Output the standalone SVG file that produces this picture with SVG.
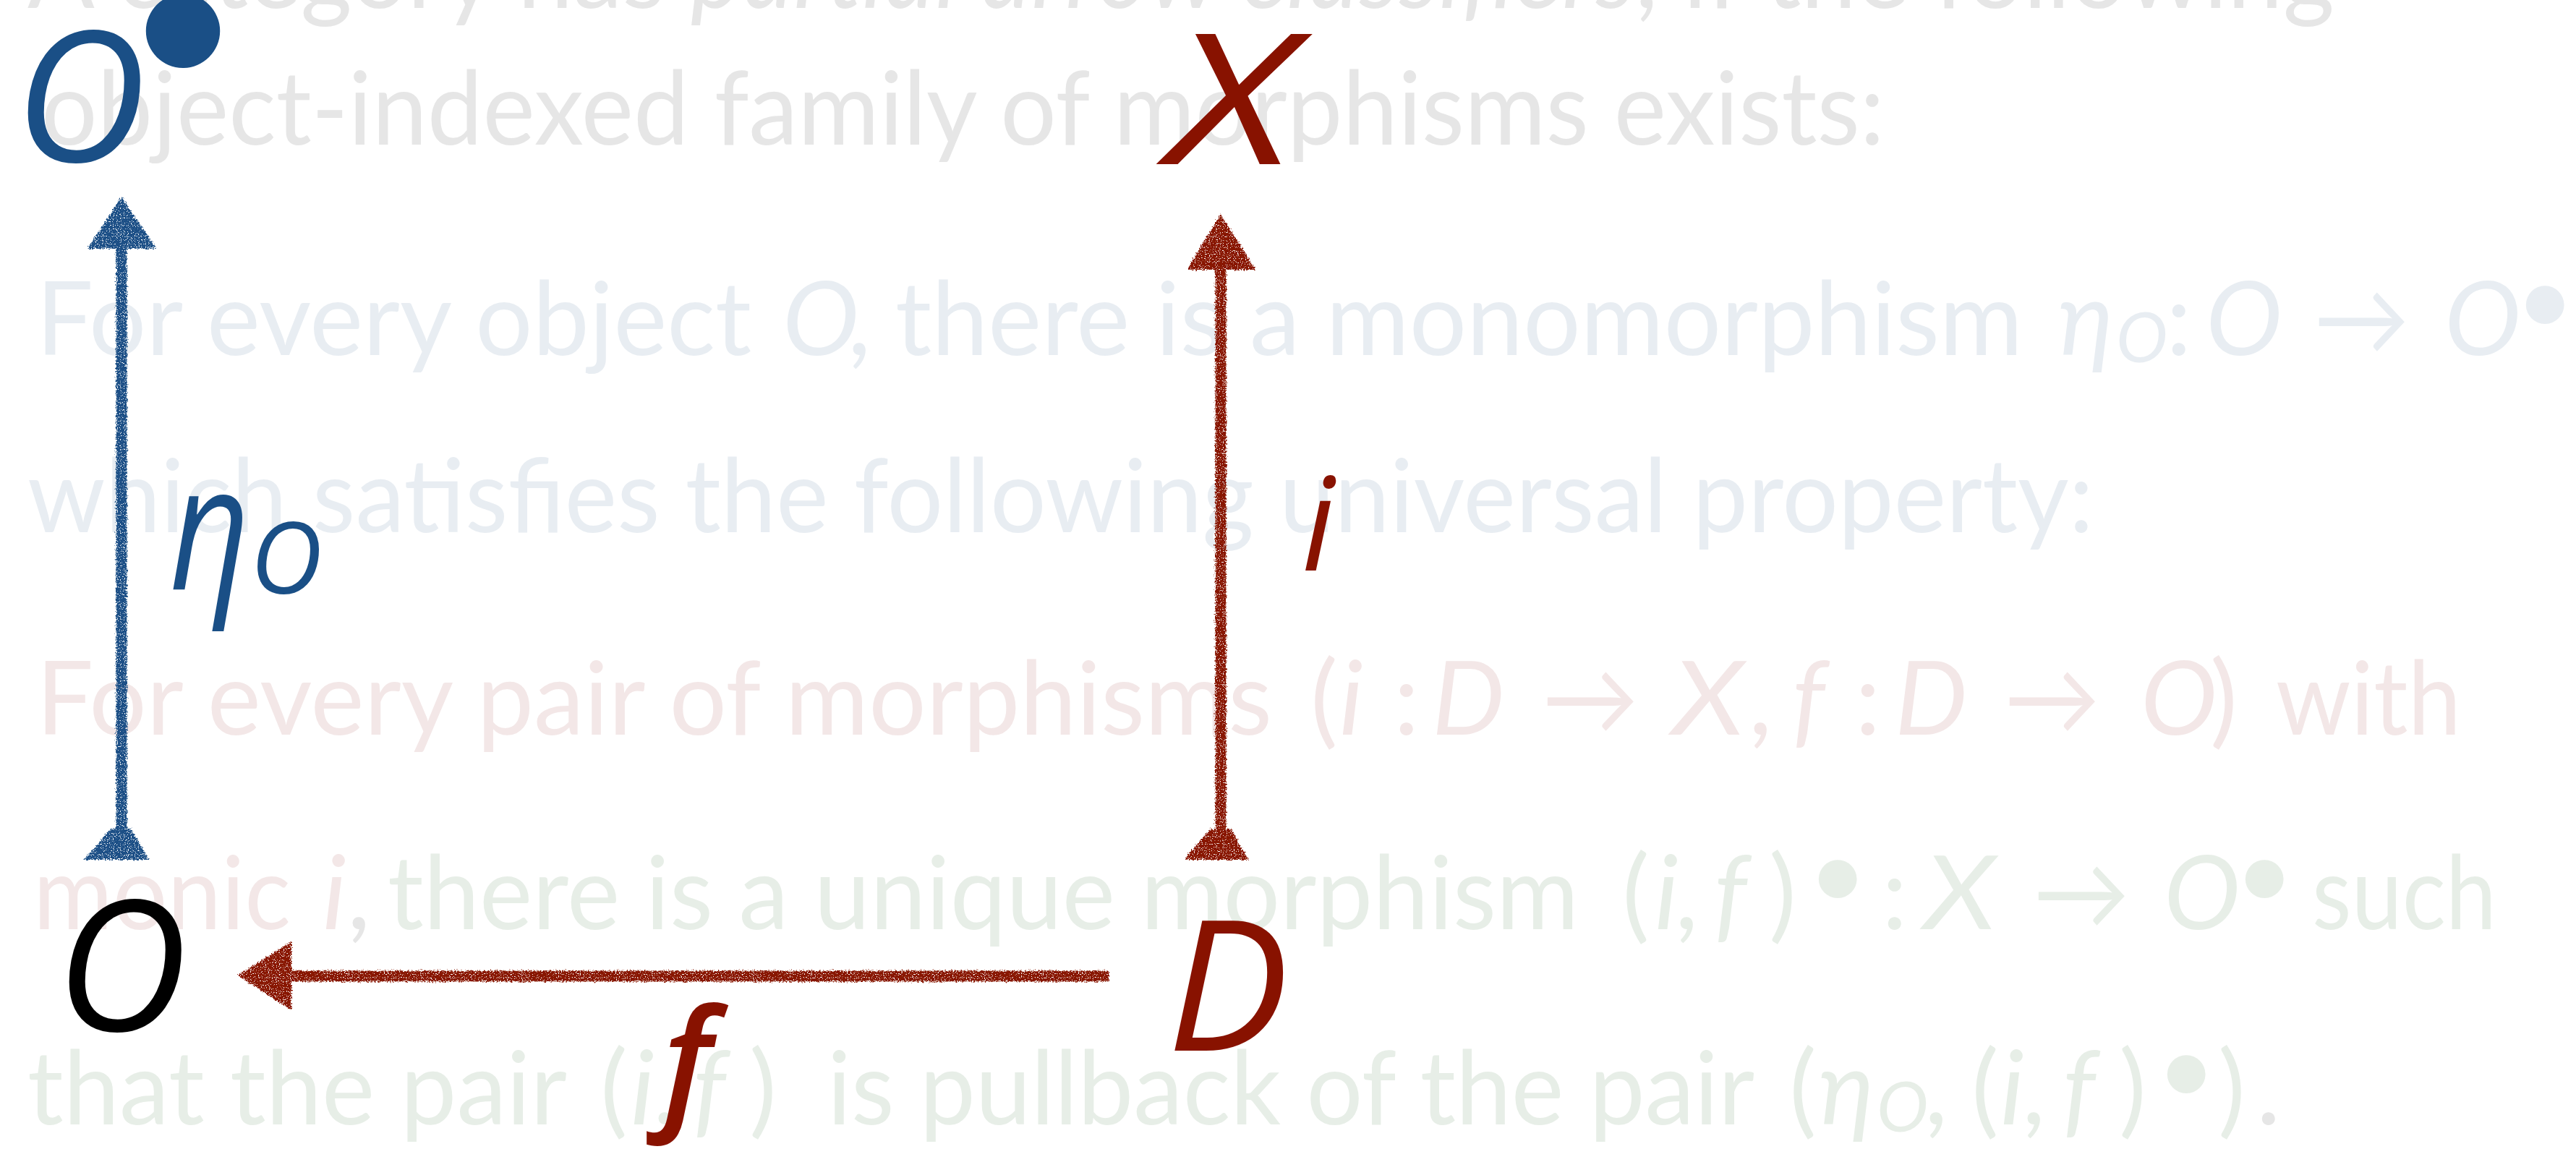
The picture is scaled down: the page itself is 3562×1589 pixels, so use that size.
<svg xmlns="http://www.w3.org/2000/svg" width="3562" height="1589" viewBox="0 0 3562 1589">
<defs>
<style>
.bg{font-family:Lato,'Noto Sans','DejaVu Sans',sans-serif;font-size:142px}
.it{font-style:italic}
.sub{font-size:96px}
.g{fill:#e6e6e6}.b{fill:#e8edf2}.p{fill:#f3e7e7}.n{fill:#e7eee7}
.lbl{font-family:'Open Sans','Noto Sans',sans-serif;font-style:italic}
.big{font-size:252px}
.blue{fill:#1a4f86}.red{fill:#881200}.blk{fill:#000}
.sb{stroke:#1a4f86;fill:none;stroke-width:15;stroke-linecap:butt}
.sr{stroke:#881200;fill:none;stroke-width:15;stroke-linecap:butt}
.hb{fill:#1a4f86}.hr{fill:#881200}
</style>
<filter id="rough" filterUnits="userSpaceOnUse" x="0" y="0" width="3562" height="1589">
<feTurbulence type="fractalNoise" baseFrequency="0.45" numOctaves="2" seed="3" result="t"/>
<feDisplacementMap in="SourceGraphic" in2="t" scale="7" xChannelSelector="R" yChannelSelector="G" result="d"/>
<feTurbulence type="fractalNoise" baseFrequency="0.8" numOctaves="1" seed="7" result="t2"/>
<feColorMatrix in="t2" type="matrix" values="0 0 0 0 0 0 0 0 0 0 0 0 0 0 0 0 0 0 -12 8.2" result="holes"/>
<feComposite in="d" in2="holes" operator="in"/>
</filter>
</defs>
<rect width="3562" height="1589" fill="#ffffff"/>

<g id="background-text" class="bg">
<text class="g" x="38" y="11" textLength="3190" lengthAdjust="spacingAndGlyphs">A category has <tspan class="it">partial arrow classifiers</tspan>, if the following</text>
<text class="g" x="57" y="200" textLength="2549" lengthAdjust="spacingAndGlyphs">object-indexed family of morphisms exists:</text>

<g class="b">
<text x="50" y="491" textLength="989" lengthAdjust="spacingAndGlyphs">For every object</text>
<text class="it" x="1082" y="491">O</text>
<text x="1172" y="491">,</text>
<text x="1238" y="491" textLength="1559" lengthAdjust="spacingAndGlyphs">there is a monomorphism</text>
<text class="it" x="2846" y="491">η</text>
<text class="it sub" x="2926" y="501">O</text>
<text x="2995" y="491">:</text>
<text class="it" x="3050" y="491">O</text>
<text x="3199" y="491" textLength="133" lengthAdjust="spacingAndGlyphs">→</text>
<text class="it" x="3380" y="491">O</text>
<text x="3478" y="464">•</text>
<text x="38" y="736" textLength="2857" lengthAdjust="spacingAndGlyphs">which satisfies the following universal property:</text>
</g>

<g class="p">
<text x="50" y="1016" textLength="1709" lengthAdjust="spacingAndGlyphs">For every pair of morphisms</text>
<text x="1812" y="1016">(</text>
<text class="it" x="1852" y="1016">i</text>
<text x="1927" y="1016">:</text>
<text class="it" x="1980" y="1016">D</text>
<text x="2132" y="1016" textLength="134" lengthAdjust="spacingAndGlyphs">→</text>
<text class="it" x="2312" y="1016" textLength="100" lengthAdjust="spacingAndGlyphs">X</text>
<text x="2418" y="1016">,</text>
<text class="it" x="2478" y="1016">f</text>
<text x="2565" y="1016">:</text>
<text class="it" x="2620" y="1016">D</text>
<text x="2771" y="1016" textLength="133" lengthAdjust="spacingAndGlyphs">→</text>
<text class="it" x="2960" y="1016">O</text>
<text x="3056" y="1016">)</text>
<text x="3147" y="1016" textLength="256" lengthAdjust="spacingAndGlyphs">with</text>
<text x="46" y="1285" textLength="356" lengthAdjust="spacingAndGlyphs">monic</text>
<text class="it" x="446" y="1285">i</text>
</g>
<text class="g" x="480" y="1285">,</text>

<g class="n">
<text x="536" y="1285" textLength="1647" lengthAdjust="spacingAndGlyphs">there is a unique morphism</text>
<text x="2243" y="1285">(</text>
<text class="it" x="2288" y="1285">i</text>
<text x="2316" y="1285">,</text>
<text class="it" x="2370" y="1285">f</text>
<text x="2446" y="1285">)</text>
<text x="2500" y="1258">•</text>
<text x="2602" y="1285">:</text>
<text class="it" x="2660" y="1285" textLength="100" lengthAdjust="spacingAndGlyphs">X</text>
<text x="2811" y="1285" textLength="134" lengthAdjust="spacingAndGlyphs">→</text>
<text class="it" x="2992" y="1285">O</text>
<text x="3090" y="1258">•</text>
<text x="3197" y="1285" textLength="255" lengthAdjust="spacingAndGlyphs">such</text>

<text x="38" y="1555" textLength="746" lengthAdjust="spacingAndGlyphs">that the pair</text>
<text x="830" y="1555">(</text>
<text class="it" x="872" y="1555">i</text>
<text x="903" y="1555">,</text>
<text class="it" x="958" y="1555">f</text>
<text x="1036" y="1555">)</text>
<text x="1144" y="1555" textLength="1282" lengthAdjust="spacingAndGlyphs">is pullback of the pair</text>
<text x="2474" y="1555">(</text>
<text class="it" x="2515" y="1555">η</text>
<text class="it sub" x="2595" y="1565">O</text>
<text x="2661" y="1555">,</text>
<text x="2726" y="1555">(</text>
<text class="it" x="2766" y="1555">i</text>
<text x="2796" y="1555">,</text>
<text class="it" x="2852" y="1555">f</text>
<text x="2930" y="1555">)</text>
<text x="2982" y="1528">•</text>
<text x="3067" y="1555">)</text>
</g>
<text class="g" x="3120" y="1555">.</text>
</g>

<g id="connectors">
<g filter="url(#rough)">
<g id="edge-eta">
<path class="sb" d="M168 1168 L168 336"/>
<polygon class="hb" points="168,272 216,344 121,344"/>
<polygon class="hb" points="153,1146 181,1146 206,1189 116,1189"/>
</g>
<g id="edge-i">
<path class="sr" d="M1688 1168 L1688 365"/>
<polygon class="hr" points="1688,296 1736,373 1641,373"/>
<polygon class="hr" points="1674,1146 1702,1146 1726,1189 1637,1189"/>
</g>
<g id="edge-f">
<path class="sr" d="M1533 1350 L396 1350"/>
<polygon class="hr" points="329,1349 403,1302 403,1397"/>
</g>
</g>
<text class="lbl blue" y="815" font-size="240"><tspan x="234" textLength="112" lengthAdjust="spacingAndGlyphs">η</tspan><tspan x="346" y="821" font-size="138">O</tspan></text>
<text class="lbl red" x="1800" y="789" font-size="179">i</text>
<text class="lbl red" x="916" y="1538" font-size="198" font-weight="600">f</text>
</g>

<g id="node-O-bullet">
<text class="lbl big blue" x="111" y="224" text-anchor="middle">O</text>
<text x="253" y="125" font-family="Lato,'Noto Sans',sans-serif" font-size="276" text-anchor="middle" class="blue">•</text>
</g>
<g id="node-X">
<text class="lbl big red" x="1702" y="227" text-anchor="middle" font-weight="500" textLength="172" lengthAdjust="spacingAndGlyphs">X</text>
</g>
<g id="node-O">
<text class="lbl big blk" x="168" y="1426" text-anchor="middle">O</text>
</g>
<g id="node-D">
<text class="lbl big red" x="1698" y="1453" text-anchor="middle">D</text>
</g>
</svg>
